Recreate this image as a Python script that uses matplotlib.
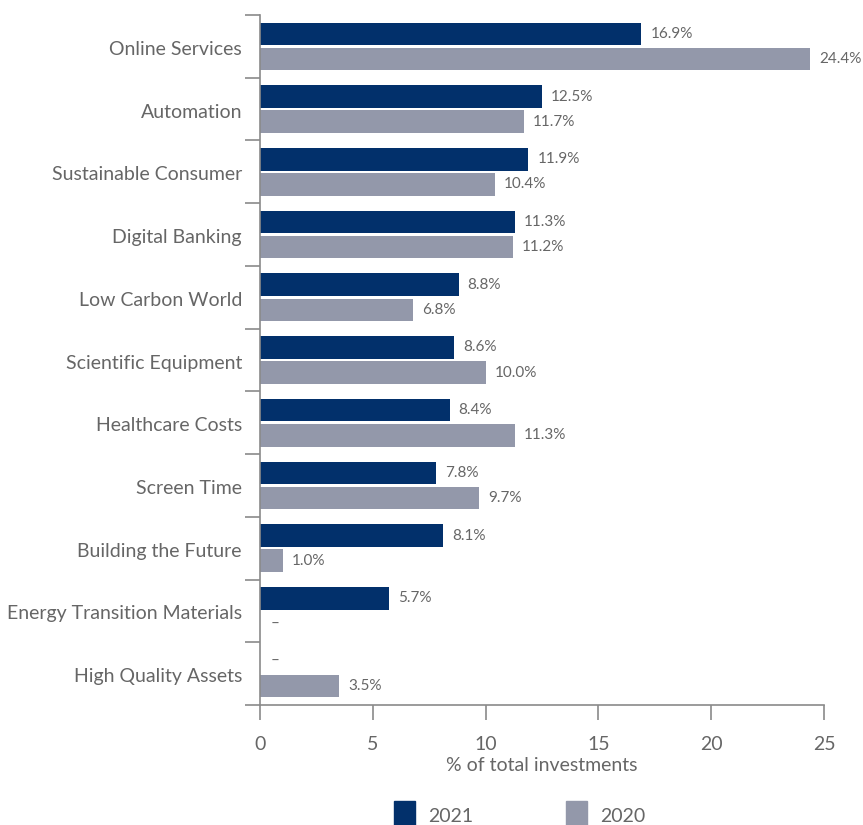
import matplotlib
matplotlib.use("Agg")
import matplotlib.pyplot as plt
import numpy as np
from matplotlib.patches import Rectangle

categories = ["Online Services", "Automation", "Sustainable Consumer", "Digital Banking",
              "Low Carbon World", "Scientific Equipment", "Healthcare Costs", "Screen Time",
              "Building the Future", "Energy Transition Materials", "High Quality Assets"]
v2021 = [16.9, 12.5, 11.9, 11.3, 8.8, 8.6, 8.4, 7.8, 8.1, 5.7, None]
v2020 = [24.4, 11.7, 10.4, 11.2, 6.8, 10.0, 11.3, 9.7, 1.0, None, 3.5]
xticks = [0, 5, 10, 15, 20, 25]

navy = "#02306b"
grey = "#9398aa"
txt = "#666666"
spine = "#8a8a8a"

plt.rcParams['font.family'] = ['Lato', 'DejaVu Sans']

fig = plt.figure(figsize=(8.63, 8.25), dpi=100)
ax = fig.add_axes([260/863, 1-705/825, 564/863, 690/825])

n = len(categories)
y = np.arange(n)
off = 0.2
h = 0.36
for i in range(n):
    for val, dy, col in ((v2021[i], -off, navy), (v2020[i], off, grey)):
        if val is None:
            ax.text(0.45, i + dy, "–", color=txt, fontsize=11, va="center", ha="left")
        else:
            ax.barh(i + dy, val, height=h, color=col)
            ax.text(val + 0.4, i + dy, f"{val:.1f}%", color=txt, fontsize=11,
                    va="center", ha="left")

ax.set_ylim(n - 0.5, -0.5)
ax.set_xlim(0, 25)
ax.set_yticks(y)
ax.set_yticklabels([])
for i, cat in enumerate(categories):
    ax.annotate(cat, xy=(0, i), xycoords=('axes fraction', 'data'),
                xytext=(-13, -2.2), textcoords='offset points',
                ha='right', va='center', fontsize=14, color=txt, annotation_clip=False)
ax.set_yticks(np.arange(-0.5, n, 1), minor=True)
ax.tick_params(axis='y', which='major', length=0)
ax.tick_params(axis='y', which='minor', length=11, width=1.2, color=spine)
ax.set_xticks(xticks)
ax.set_xticklabels([str(t) for t in xticks], fontsize=14, color=txt)
ax.tick_params(axis='x', length=11, width=1.2, color=spine, pad=11)
ax.set_xlabel("% of total investments", fontsize=14, color=txt, labelpad=3)

for s in ("top", "right"):
    ax.spines[s].set_visible(False)
for s in ("left", "bottom"):
    ax.spines[s].set_color(spine)
    ax.spines[s].set_linewidth(1.2)

# legend
for x0, col, lab in ((394, navy, "2021"), (566, grey, "2020")):
    fig.patches.append(Rectangle((x0/863, 0), 21/863, 24/825, transform=fig.transFigure,
                                 color=col))
    fig.text((x0 + 34)/863, 9/825, lab, fontsize=14, color=txt, va="center", ha="left")

fig.savefig("out.png", dpi=100)
